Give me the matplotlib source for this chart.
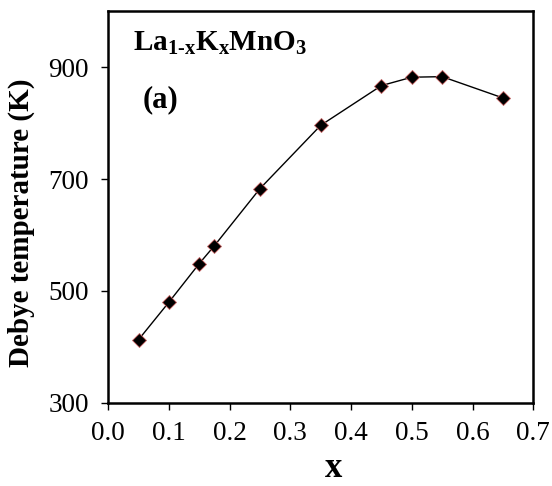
import matplotlib
matplotlib.use("Agg")
import matplotlib.pyplot as plt

# Debye temperature vs K content
x_vals = [0.05, 0.1, 0.15, 0.175, 0.25, 0.35, 0.45, 0.5, 0.55, 0.65]
debye_k = [413, 480, 549, 581, 683, 796, 867, 882, 883, 845]

x_ticks = [0.0, 0.1, 0.2, 0.3, 0.4, 0.5, 0.6, 0.7]
y_ticks = [300, 500, 700, 900]

plt.rcParams['font.family'] = ['Liberation Serif', 'DejaVu Serif']
plt.rcParams['mathtext.fontset'] = 'custom'
plt.rcParams['mathtext.rm'] = 'Liberation Serif'
plt.rcParams['mathtext.bf'] = 'Liberation Serif:bold'
plt.rcParams['mathtext.it'] = 'Liberation Serif:italic'

fig = plt.figure(figsize=(5.52, 4.86), dpi=100)
ax = fig.add_axes([0.196, 0.171, 0.770, 0.806])

ax.plot(x_vals, debye_k, color='black', lw=1.0, marker='D', ms=7.5,
        markerfacecolor='black', markeredgecolor='#c86464', markeredgewidth=0.6)

ax.set_xlim(0.0, 0.7)
ax.set_ylim(300, 1000)
ax.set_xticks(x_ticks)
ax.set_xticklabels([f"{t:.1f}" for t in x_ticks])
ax.set_yticks(y_ticks)
ax.tick_params(direction='out', length=5, width=1, labelsize=19.5)
ax.tick_params(axis='x', pad=8)
ax.tick_params(axis='y', pad=9)

for spine in ax.spines.values():
    spine.set_linewidth(1.8)

ax.set_xlabel('x', fontsize=25, fontweight='bold')
ax.set_ylabel('Debye temperature (K)', fontsize=21, fontweight='bold')
ax.xaxis.set_label_coords(0.53, -0.125)
ax.yaxis.set_label_coords(-0.172, 0.46)

ax.text(0.059, 0.90,
        r'$\mathbf{La}_{\mathbf{1}\text{-}\mathbf{x}}\mathbf{K}_{\mathbf{x}}\mathbf{MnO}_{\mathbf{3}}$',
        transform=ax.transAxes, fontsize=21, ha='left', va='baseline')
ax.text(0.08, 0.755, '(a)', transform=ax.transAxes, fontsize=22,
        fontweight='bold', ha='left', va='baseline')

fig.savefig('out.png', dpi=100)
